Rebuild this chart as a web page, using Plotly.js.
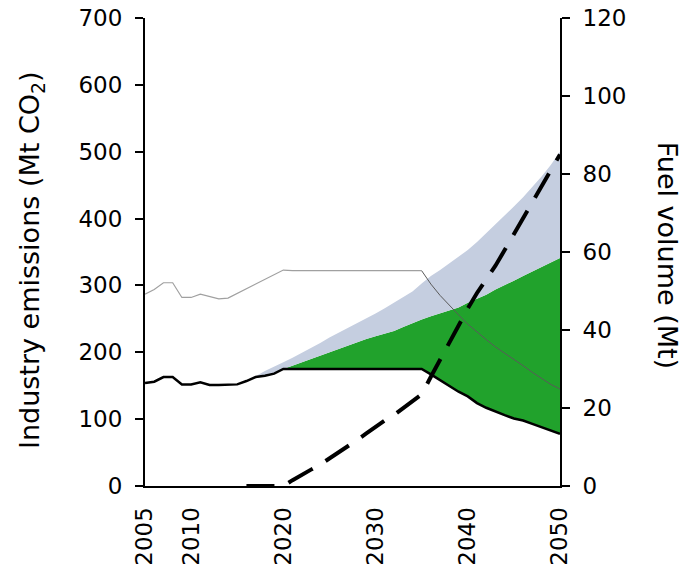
<!DOCTYPE html>
<html>
<head>
<meta charset="utf-8">
<script src="https://cdn.plot.ly/plotly-3.0.1.min.js"></script>
<style>
  html, body { margin: 0; padding: 0; background: #ffffff; }
  #chart { width: 687px; height: 570px; }
</style>
</head>
<body>
<div id="chart"></div>
<script>
// Years on the horizontal axis
const years = [2005, 2006, 2007, 2008, 2009, 2010, 2011, 2012, 2013, 2014,
               2015, 2016, 2017, 2018, 2019, 2020, 2021, 2022, 2023, 2024,
               2025, 2026, 2027, 2028, 2029, 2030, 2031, 2032, 2033, 2034,
               2035, 2036, 2037, 2038, 2039, 2040, 2041, 2042, 2043, 2044,
               2045, 2046, 2047, 2048, 2049, 2050];

// Industry emissions with measures (Mt CO2) - black line
const emissions = [154, 156, 163, 163, 152, 152, 155, 151, 151, 151,
                   152, 157, 163, 165, 168, 175, 175, 175, 175, 175,
                   175, 175, 175, 175, 175, 175, 175, 175, 175, 175,
                   175, 167, 158, 149, 141, 134, 124, 117, 111, 106,
                   101, 98, 93, 88, 83, 78];

// Upper edge of the green band (Mt CO2)
const greenTop = [154, 156, 163, 163, 152, 152, 155, 151, 151, 151,
                  152, 157, 163, 165, 168, 175, 180, 186, 191, 196,
                  200, 205, 210, 215, 220, 224, 228, 232, 238, 244,
                  249, 254, 258, 262, 267, 274, 280, 286, 294, 300,
                  307, 314, 321, 328, 335, 341];

// Upper edge of the light blue band (Mt CO2)
const blueTop = [154, 156, 163, 163, 152, 152, 155, 151, 151, 151,
                 152, 158, 164, 172, 178, 185, 192, 199, 206, 214,
                 222, 229, 236, 244, 251, 258, 266, 274, 283, 291,
                 303, 314, 323, 333, 343, 353, 365, 378, 391, 405,
                 418, 432, 447, 463, 480, 500];

// Reference emissions path (Mt CO2) - thin grey line
const reference = [287, 294, 304, 304, 282, 282, 287, 283, 280, 281,
                   288, 296, 302, 309, 316, 323, 322, 322, 322, 322,
                   322, 322, 322, 322, 322, 322, 322, 322, 322, 322,
                   322, 302, 285, 270, 256, 242, 230, 219, 208, 199,
                   189, 180, 170, 161, 152, 145];

// Fuel volume (Mt) - dashed line on the right axis
const fuel = [null, null, null, null, null, null, null, null, null, null,
              null, 0, 0, 0, 0, 0, 1.5, 3, 4.2, 5.5,
              7, 8.5, 10, 11.8, 13.5, 15.2, 16.8, 18.2, 20, 21.5,
              23.5, 28, 32.5, 37, 41, 45.5, 49.5, 53, 56.5, 60.5,
              64.5, 68.7, 72.5, 76.5, 80.5, 85];

const xTicks = [2005, 2010, 2020, 2030, 2040, 2050];
const leftTicks = [0, 100, 200, 300, 400, 500, 600, 700];
const rightTicks = [0, 20, 40, 60, 80, 100, 120];

const splitIdx = years.indexOf(2035);
const FONT = 'DejaVu Sans, Verdana, sans-serif';

const traces = [
  { x: years, y: emissions, mode: 'lines', line: { width: 0, color: 'rgba(0,0,0,0)' },
    hoverinfo: 'skip', showlegend: false },
  { x: years, y: greenTop, mode: 'lines', fill: 'tonexty', fillcolor: '#21a22c',
    line: { width: 0, color: 'rgba(0,0,0,0)' }, showlegend: false },
  { x: years, y: blueTop, mode: 'lines', fill: 'tonexty', fillcolor: '#c5cee0',
    line: { width: 0, color: 'rgba(0,0,0,0)' }, showlegend: false },
  { x: years.slice(0, splitIdx + 1), y: reference.slice(0, splitIdx + 1), mode: 'lines',
    line: { width: 1.2, color: '#a0a0a0' }, showlegend: false },
  { x: years.slice(splitIdx), y: reference.slice(splitIdx), mode: 'lines',
    line: { width: 1, color: '#5a5a5a' }, showlegend: false },
  { x: years, y: emissions, mode: 'lines', line: { width: 2.5, color: '#000000' },
    showlegend: false },
  { x: years, y: fuel, yaxis: 'y2', mode: 'lines', connectgaps: false,
    line: { width: 4, color: '#000000', dash: '28px,15px' }, showlegend: false }
];

const layout = {
  width: 687,
  height: 570,
  margin: { l: 145, r: 127, t: 18, b: 84 },
  paper_bgcolor: '#ffffff',
  plot_bgcolor: '#ffffff',
  font: { family: FONT, size: 23, color: '#000000' },
  showlegend: false,
  xaxis: {
    range: [2005, 2050],
    tickmode: 'array', tickvals: xTicks, ticktext: xTicks.map(String),
    tickangle: -90, ticks: '', ticklabelstandoff: 10,
    showline: true, linecolor: '#000000', linewidth: 2,
    showgrid: false, zeroline: false,
    tickfont: { family: FONT, size: 23 }
  },
  yaxis: {
    range: [0, 700],
    tickmode: 'array', tickvals: leftTicks,
    ticks: 'outside', ticklen: 8, tickwidth: 2, tickcolor: '#000000',
    ticklabelstandoff: 8,
    showline: true, linecolor: '#000000', linewidth: 2,
    showgrid: false, zeroline: false,
    tickfont: { family: FONT, size: 23 }
  },
  yaxis2: {
    range: [0, 120], overlaying: 'y', side: 'right',
    tickmode: 'array', tickvals: rightTicks,
    ticks: 'outside', ticklen: 8, tickwidth: 2, tickcolor: '#000000',
    ticklabelstandoff: 8,
    showline: true, linecolor: '#000000', linewidth: 2,
    showgrid: false, zeroline: false,
    tickfont: { family: FONT, size: 23 }
  },
  annotations: [
    { text: 'Industry emissions (Mt CO<sub>2</sub>)', xref: 'paper', yref: 'paper',
      x: -0.272, y: 0.483, textangle: -90, showarrow: false,
      xanchor: 'center', yanchor: 'middle', font: { family: FONT, size: 27 } },
    { text: 'Fuel volume (Mt)', xref: 'paper', yref: 'paper',
      x: 1.258, y: 0.494, textangle: 90, showarrow: false,
      xanchor: 'center', yanchor: 'middle', font: { family: FONT, size: 27 } }
  ]
};

Plotly.newPlot('chart', traces, layout, { staticPlot: true, displayModeBar: false });
</script>
</body>
</html>
